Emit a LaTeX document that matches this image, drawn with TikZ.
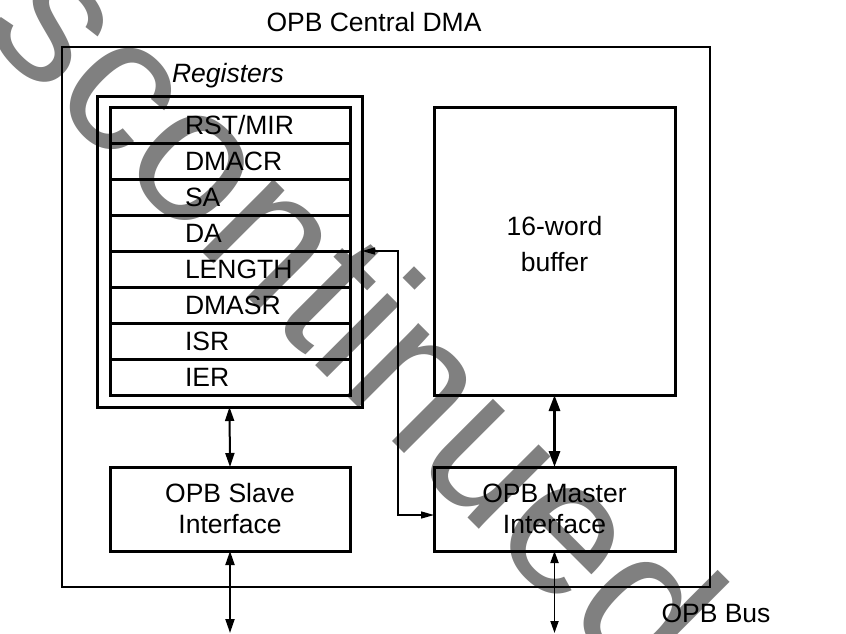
\documentclass[tikz,border=0pt]{standalone}
\usepackage{fontspec}
\setmainfont{Liberation Sans}
\usetikzlibrary{arrows.meta}
\definecolor{wm}{RGB}{128,128,128}
\begin{document}
\begin{tikzpicture}[x=1pt,y=-1pt,
  every node/.style={inner sep=0pt, outer sep=0pt},
  lab/.style={font=\fontsize{26.5}{31}\selectfont, align=center},
  thickbox/.style={draw, line width=3pt},
  rowbox/.style={draw, line width=3pt, minimum width=240pt, minimum height=36pt},
  rowtxt/.style={font=\fontsize{26.5}{31}\selectfont, anchor=west},
  conn/.style={line width=2pt, {Triangle[length=14pt,width=9pt]}-{Triangle[length=14pt,width=9pt]}},
  bigconn/.style={line width=3pt, {Triangle[length=16pt,width=11pt]}-{Triangle[length=16pt,width=11pt]}},
  busconn/.style={line width=1.8pt, {Triangle[length=12pt,width=8pt]}-{Triangle[length=12pt,width=8pt]}},
  thinconn/.style={line width=1.3pt, {Triangle[length=13pt,width=7pt]}-{Triangle[length=13pt,width=7pt]}},
  ]
\useasboundingbox (0,0) rectangle (846,634);
\fill[white] (0,0) rectangle (846,634);
\begin{scope}
\clip (0,0) rectangle (846,634);
\node[text=wm, rotate=-45, font=\fontsize{193}{193}\selectfont] (wmark) at (295,247) {Discontinued};
\end{scope}
\node[draw, line width=1.5pt, minimum width=648pt, minimum height=540pt] (outer) at (386,317) {};
\node[lab] (title) at (374,22) {OPB Central DMA};
\node[font=\fontsize{26.5}{31}\selectfont\itshape] (reglabel) at (228,76) {Registers};
\node[thickbox, minimum width=265pt, minimum height=311pt] (regs) at (229.5,251.5) {};
\node[rowbox] (r1) at (230,125) {};
\node[rowbox] (r2) at (230,161) {};
\node[rowbox] (r3) at (230,197) {};
\node[rowbox] (r4) at (230,233) {};
\node[rowbox] (r5) at (230,269) {};
\node[rowbox] (r6) at (230,305) {};
\node[rowbox] (r7) at (230,341) {};
\node[rowbox] (r8) at (230,377) {};
\node[rowtxt] (t1) at (185,125) {RST/MIR};
\node[rowtxt] (t2) at (185,161) {DMACR};
\node[rowtxt] (t3) at (185,197) {SA};
\node[rowtxt] (t4) at (185,233) {DA};
\node[rowtxt] (t5) at (185,269) {LENGTH};
\node[rowtxt] (t6) at (185,305) {DMASR};
\node[rowtxt] (t7) at (185,341) {ISR};
\node[rowtxt] (t8) at (185,377) {IER};
\node[thickbox, minimum width=241pt, minimum height=288pt] (buf) at (554.5,251) {};
\node[lab, font=\fontsize{26.5}{36}\selectfont] (buftxt) at (554.5,244) {16-word\\buffer};
\node[thickbox, lab, minimum width=240pt, minimum height=84pt] (slave) at (230,509) {OPB Slave\\Interface};
\node[thickbox, lab, minimum width=241pt, minimum height=84pt] (master) at (554.5,509) {OPB Master\\Interface};
\node[lab] (bus) at (716,613) {OPB Bus};
\coordinate (busL) at (230,633);
\coordinate (busR) at (554.5,633);
\draw[conn] (regs.south) -- (slave.north);
\draw[conn] (slave.south) -- (busL);
\draw[bigconn] (buf.south) -- (master.north);
\draw[busconn] (master.south) -- (busR);
\draw[thinconn] (regs.east |- r5.north) -- ++(36,0) |- ([yshift=-6pt]master.west);
\end{tikzpicture}
\end{document}
